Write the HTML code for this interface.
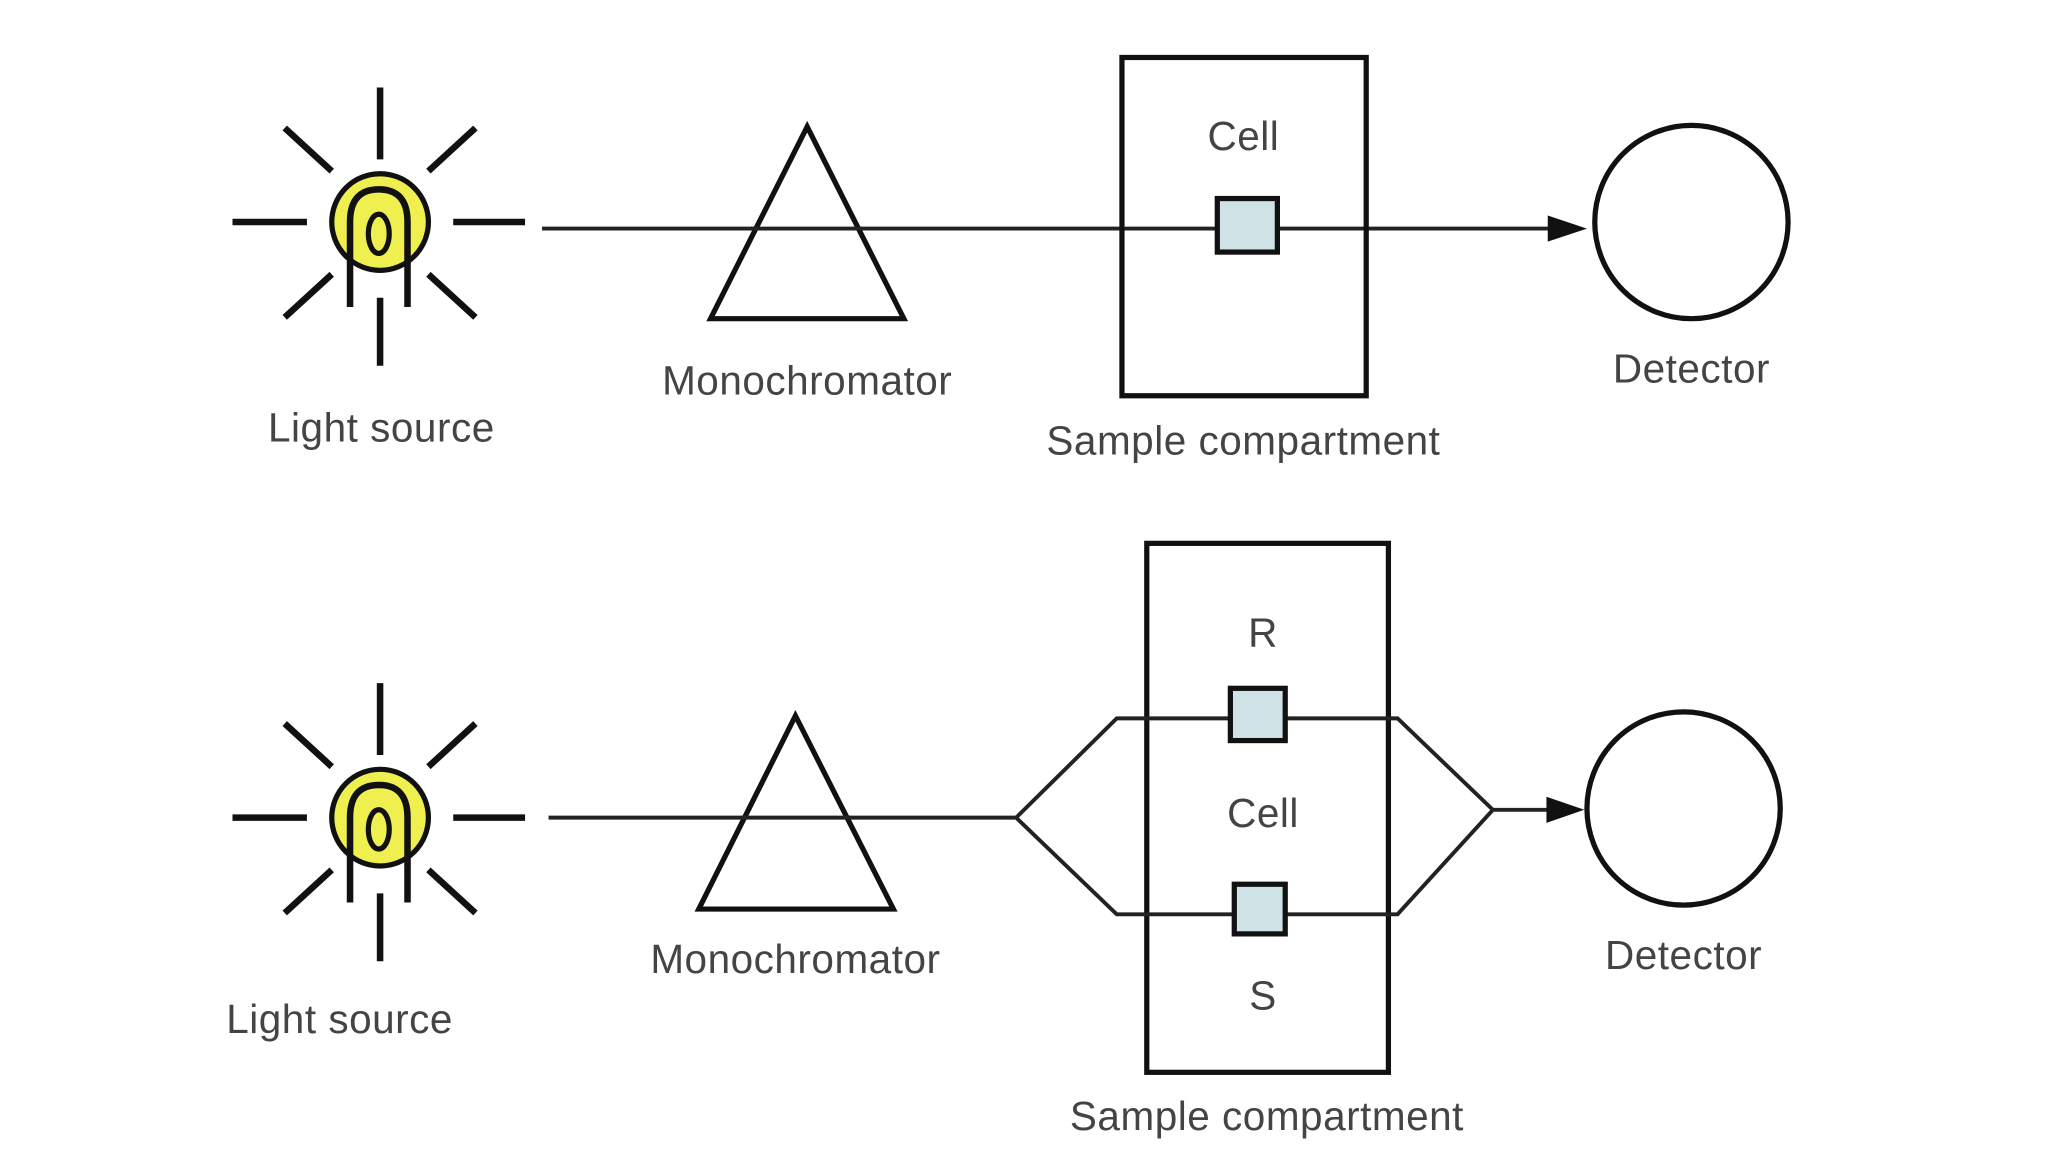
<!DOCTYPE html>
<html><head><meta charset="utf-8"><style>html,body{margin:0;padding:0;background:#fff}svg{display:block}</style></head>
<body>
<svg width="2048" height="1152" viewBox="0 0 1568 882" xmlns="http://www.w3.org/2000/svg">
<defs>
<g id="bulb">
<g stroke="#111" stroke-width="5">
<line x1="291" y1="67" x2="291" y2="122"/><line x1="291" y1="228" x2="291" y2="280"/>
<line x1="178" y1="170" x2="235" y2="170"/><line x1="347" y1="170" x2="402" y2="170"/>
<line x1="218" y1="98" x2="254" y2="131"/><line x1="364" y1="98" x2="328" y2="131"/>
<line x1="218" y1="243" x2="254" y2="210"/><line x1="364" y1="243" x2="328" y2="210"/>
</g>
<circle cx="291" cy="170" r="37" fill="#f0ef50" stroke="#111" stroke-width="4"/>
<path d="M268 235 V170 Q268 145 290 145 Q312 145 312 170 V235" fill="none" stroke="#111" stroke-width="5"/>
<ellipse cx="290" cy="179" rx="8" ry="15" fill="none" stroke="#111" stroke-width="4"/>
</g>
</defs>
<g font-family="Liberation Sans, sans-serif" font-size="31" fill="#444" text-anchor="middle" letter-spacing="0.4">
<!-- top -->
<use href="#bulb"/>
<line x1="415" y1="175" x2="1190" y2="175" stroke="#222" stroke-width="3"/>
<polygon points="1215,175 1185,165 1185,185" fill="#111"/>
<polygon points="618,97 544,244 692,244" fill="#fff" stroke="#111" stroke-width="4"/>
<line x1="575" y1="175" x2="660" y2="175" stroke="#222" stroke-width="3"/>
<rect x="859" y="44" width="187" height="259" fill="none" stroke="#111" stroke-width="4"/>
<rect x="932" y="152" width="46" height="41" fill="#cfe3e6" stroke="#111" stroke-width="4"/>
<circle cx="1295" cy="170" r="74" fill="none" stroke="#111" stroke-width="4"/>
<text x="292" y="338">Light source</text>
<text x="618" y="302">Monochromator</text>
<text x="952" y="115">Cell</text>
<text x="952" y="348">Sample compartment</text>
<text x="1295" y="293">Detector</text>
<!-- bottom -->
<use href="#bulb" transform="translate(0,456)"/>
<line x1="420" y1="626" x2="778" y2="626" stroke="#222" stroke-width="3"/>
<polygon points="609,548 535,696 684,696" fill="#fff" stroke="#111" stroke-width="4"/>
<line x1="567" y1="626" x2="652" y2="626" stroke="#222" stroke-width="3"/>
<rect x="878" y="416" width="185" height="405" fill="none" stroke="#111" stroke-width="4"/>
<path d="M778 626 L855 550 H1070 L1143 620 L1070 700 H855 Z" fill="none" stroke="#222" stroke-width="3"/>
<line x1="1143" y1="620" x2="1190" y2="620" stroke="#222" stroke-width="3"/>
<polygon points="1213,620 1184,610 1184,630" fill="#111"/>
<rect x="942" y="527" width="42" height="40" fill="#cfe3e6" stroke="#111" stroke-width="4"/>
<rect x="945" y="677" width="39" height="38" fill="#cfe3e6" stroke="#111" stroke-width="4"/>
<circle cx="1289" cy="619" r="74" fill="none" stroke="#111" stroke-width="4"/>
<text x="967" y="495">R</text>
<text x="967" y="633">Cell</text>
<text x="967" y="773">S</text>
<text x="260" y="791">Light source</text>
<text x="609" y="745">Monochromator</text>
<text x="970" y="865">Sample compartment</text>
<text x="1289" y="742">Detector</text>
</g>
</svg>
</body></html>
